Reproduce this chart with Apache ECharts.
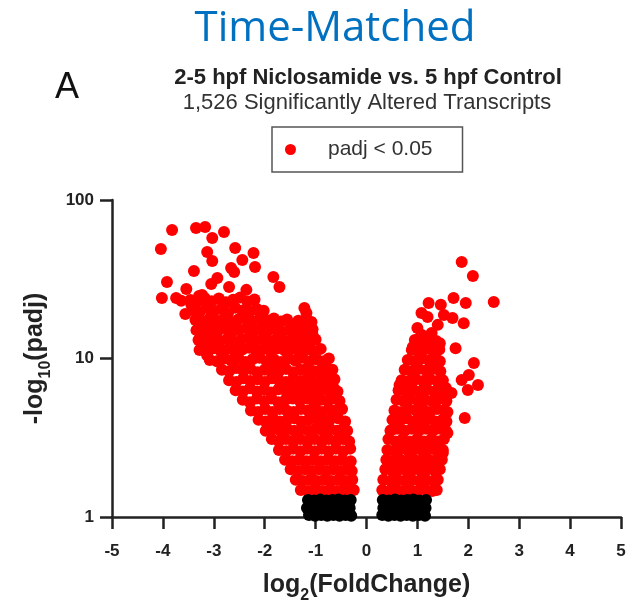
<!DOCTYPE html>
<html>
<head>
<meta charset="utf-8">
<script src="https://cdn.jsdelivr.net/npm/echarts@6/dist/echarts.min.js"></script>
<style>
html,body{margin:0;padding:0;background:#fff;}
#chart{width:634px;height:604px;}
</style>
</head>
<body>
<div id="chart"></div>
<script>
// x ticks and y ticks
const xTickValues = [-5, -4, -3, -2, -1, 0, 1, 2, 3, 4, 5];
const yTickLabels = ['1', '10', '100'];

// Significant (padj < 0.05), down-regulated, sparse upper points [log2FC, -log10(padj)]
const sigDownSparse = [
  [-3.82,64.7],[-3.35,66.6],[-3.17,67.6],[-4.04,49.1],[-3.03,57.6],[-2.80,62.8],[-3.13,47.0],
  [-3.03,41.2],[-2.58,49.8],[-2.22,46.3],[-2.44,41.8],[-2.19,37.8],[-2.66,37.2],[-3.39,35.6],
  [-2.60,35.1],[-1.83,32.7],[-1.71,28.3],[-3.92,30.4],[-2.93,32.2],[-3.05,29.5],[-3.54,27.4],
  [-4.02,24.1],[-3.74,24.1],[-3.64,23.1],[-3.29,24.8],[-3.44,21.8],[-3.56,19.1],[-3.23,25.2],
  [-2.70,28.3],[-2.36,27.1],[-2.11,19.7],[-1.22,20.8],[-1.18,19.4],[-1.85,17.0],[-1.42,16.3],
  [-1.12,15.8],[-1.06,14.1],[-1.28,14.1],[-1.32,12.7],[-1.12,12.2],[-1.61,11.6],[-3.13,10.5],
  [-0.79,8.84],[-1.38,9.8]
];

// Significant, down-regulated, dense body
const sigDownDense = [
  [-3.46,23.4],[-3.32,22.8],[-3.18,24.1],[-3.04,23.0],[-2.90,23.9],[-2.76,22.6],[-2.62,23.5],[-2.48,24.3],[-2.34,22.9],[-2.20,23.6],
  [-3.42,20.2],[-3.28,19.6],[-3.14,20.8],[-3.00,19.9],[-2.86,20.5],[-2.72,19.4],[-2.58,20.9],[-2.44,20.1],[-2.30,19.7],[-2.16,20.6],[-2.02,20.0],
  [-3.36,17.5],[-3.22,17.1],[-3.08,17.9],[-2.94,17.3],[-2.80,17.8],[-2.66,17.0],[-2.52,17.6],[-2.38,18.0],[-2.24,17.2],[-2.10,17.7],[-1.96,17.4],[-1.82,17.9],[-1.68,17.1],[-1.56,17.6],[-1.34,17.3],[-1.18,17.8],[-1.08,17.0],
  [-3.34,15.1],[-3.20,14.8],[-3.06,15.4],[-2.92,14.9],[-2.78,15.5],[-2.64,14.7],[-2.50,15.2],[-2.36,15.6],[-2.22,14.8],[-2.08,15.3],[-1.94,14.9],[-1.80,15.4],[-1.66,14.7],[-1.52,15.2],[-1.42,15.0],[-1.30,15.5],[-1.16,14.8],[-1.06,15.3],
  [-3.30,13.1],[-3.16,12.8],[-3.02,13.4],[-2.88,12.9],[-2.74,13.3],[-2.60,12.7],[-2.46,13.2],[-2.32,13.5],[-2.18,12.9],[-2.04,13.3],[-1.90,12.8],[-1.76,13.4],[-1.62,12.9],[-1.48,13.2],[-1.34,12.8],[-1.22,13.4],[-1.10,12.9],[-1.00,13.2],
  [-3.28,11.3],[-3.14,11.0],[-3.00,11.6],[-2.86,11.1],[-2.72,11.5],[-2.58,11.0],[-2.44,11.4],[-2.30,11.7],[-2.16,11.1],[-2.02,11.5],[-1.88,11.0],[-1.74,11.6],[-1.60,11.2],[-1.46,11.5],[-1.32,11.0],[-1.18,11.4],[-1.04,11.1],[-0.90,11.5],
  [-3.08,9.8],[-2.94,9.6],[-2.80,10.0],[-2.66,9.7],[-2.52,10.1],[-2.38,9.5],[-2.24,9.9],[-2.10,10.1],[-1.96,9.6],[-1.82,9.9],[-1.68,9.5],[-1.54,10.0],[-1.40,9.7],[-1.26,10.1],[-1.12,9.6],[-0.98,9.9],[-0.84,9.6],[-0.74,10.0],
  [-2.84,8.5],[-2.70,8.3],[-2.56,8.7],[-2.42,8.4],[-2.28,8.6],[-2.14,8.2],[-2.00,8.5],[-1.86,8.7],[-1.72,8.3],[-1.58,8.6],[-1.44,8.2],[-1.30,8.5],[-1.16,8.7],[-1.02,8.3],[-0.88,8.6],[-0.76,8.3],[-0.67,8.5],
  [-2.70,7.3],[-2.56,7.1],[-2.42,7.5],[-2.28,7.2],[-2.14,7.4],[-2.00,7.1],[-1.86,7.5],[-1.72,7.3],[-1.58,7.1],[-1.44,7.4],[-1.30,7.2],[-1.16,7.5],[-1.02,7.1],[-0.88,7.4],[-0.75,7.2],[-0.63,7.4],
  [-2.57,6.3],[-2.43,6.2],[-2.29,6.5],[-2.15,6.2],[-2.01,6.4],[-1.87,6.1],[-1.73,6.4],[-1.59,6.3],[-1.45,6.5],[-1.31,6.2],[-1.17,6.4],[-1.03,6.1],[-0.89,6.4],[-0.76,6.3],[-0.64,6.5],[-0.57,6.2],
  [-2.43,5.5],[-2.29,5.3],[-2.15,5.6],[-2.01,5.4],[-1.87,5.6],[-1.73,5.3],[-1.59,5.5],[-1.45,5.6],[-1.31,5.4],[-1.17,5.6],[-1.03,5.3],[-0.89,5.5],[-0.76,5.4],[-0.64,5.6],[-0.53,5.4],
  [-2.27,4.7],[-2.13,4.6],[-1.99,4.8],[-1.85,4.6],[-1.71,4.8],[-1.57,4.7],[-1.43,4.6],[-1.29,4.8],[-1.15,4.7],[-1.01,4.9],[-0.87,4.6],[-0.74,4.8],[-0.60,4.7],[-0.48,4.8],
  [-2.12,4.1],[-1.98,4.0],[-1.84,4.2],[-1.70,4.0],[-1.56,4.1],[-1.42,4.2],[-1.28,4.0],[-1.14,4.1],[-1.00,4.2],[-0.86,4.0],[-0.72,4.1],[-0.56,4.2],[-0.42,4.0],
  [-1.98,3.5],[-1.84,3.6],[-1.70,3.5],[-1.56,3.6],[-1.42,3.5],[-1.28,3.6],[-1.14,3.5],[-1.00,3.6],[-0.86,3.5],[-0.72,3.6],[-0.58,3.5],[-0.46,3.6],[-0.38,3.5],
  [-1.86,3.1],[-1.72,3.0],[-1.58,3.1],[-1.44,3.0],[-1.30,3.1],[-1.16,3.0],[-1.02,3.1],[-0.88,3.0],[-0.74,3.1],[-0.60,3.0],[-0.46,3.1],[-0.34,3.0],
  [-1.72,2.65],[-1.58,2.6],[-1.44,2.7],[-1.30,2.6],[-1.16,2.7],[-1.02,2.6],[-0.88,2.7],[-0.74,2.6],[-0.60,2.7],[-0.46,2.6],[-0.32,2.7],
  [-1.60,2.3],[-1.46,2.25],[-1.32,2.3],[-1.18,2.25],[-1.04,2.3],[-0.90,2.25],[-0.76,2.3],[-0.62,2.25],[-0.48,2.3],[-0.31,2.25],
  [-1.49,2.0],[-1.35,1.95],[-1.21,2.0],[-1.07,1.95],[-0.93,2.0],[-0.79,1.95],[-0.65,2.0],[-0.51,1.95],[-0.38,2.0],[-0.29,1.95],
  [-1.39,1.72],[-1.25,1.69],[-1.11,1.72],[-0.97,1.69],[-0.83,1.72],[-0.69,1.69],[-0.55,1.72],[-0.41,1.69],[-0.28,1.72],
  [-1.29,1.48],[-1.15,1.46],[-1.01,1.49],[-0.87,1.46],[-0.73,1.48],[-0.59,1.46],[-0.45,1.49],[-0.33,1.46],[-0.25,1.48]
];

// Significant, up-regulated, sparse upper points
const sigUpSparse = [
  [1.87,40.6],[2.09,33.2],[2.50,22.7],[1.71,24.1],[1.95,22.4],[1.22,22.4],[1.46,21.8],[1.08,19.4],
  [1.20,18.3],[1.52,18.8],[1.69,18.0],[1.91,16.7],[1.40,16.3],[1.08,14.1],[1.28,14.5],[1.44,12.5],
  [1.75,11.6],[2.11,9.37],[2.01,7.87],[1.87,7.32],[2.19,6.80],[1.99,6.33],[1.67,6.06],[1.56,6.51],
  [1.93,4.21],[0.65,6.80],[1.59,3.39],[1.50,2.53],[0.49,3.54],[1.00,15.6],[1.18,13.1],[0.91,11.8],[1.34,11.6]
];

// Significant, up-regulated, dense body
const sigUpDense = [
  [0.95,13.1],[1.09,12.8],[1.23,13.3],[1.37,12.9],
  [0.89,11.3],[1.03,11.0],[1.17,11.5],[1.31,11.1],[1.43,11.4],
  [0.81,9.8],[0.95,9.6],[1.09,10.0],[1.23,9.7],[1.37,9.9],[1.44,9.6],
  [0.75,8.5],[0.89,8.3],[1.03,8.6],[1.17,8.4],[1.31,8.6],[1.45,8.3],
  [0.69,7.3],[0.83,7.2],[0.97,7.4],[1.11,7.2],[1.25,7.4],[1.39,7.2],[1.50,7.3],
  [0.63,6.3],[0.77,6.2],[0.91,6.4],[1.05,6.2],[1.19,6.4],[1.33,6.2],[1.47,6.4],[1.54,6.3],
  [0.59,5.5],[0.73,5.4],[0.87,5.6],[1.01,5.4],[1.15,5.5],[1.29,5.4],[1.43,5.6],[1.57,5.4],
  [0.55,4.7],[0.69,4.6],[0.83,4.8],[0.97,4.7],[1.11,4.8],[1.25,4.6],[1.39,4.8],[1.53,4.7],[1.59,4.6],
  [0.51,4.1],[0.65,4.0],[0.79,4.2],[0.93,4.0],[1.07,4.1],[1.21,4.2],[1.35,4.0],[1.49,4.1],[1.57,4.0],
  [0.47,3.5],[0.61,3.6],[0.75,3.5],[0.89,3.6],[1.03,3.5],[1.17,3.6],[1.31,3.5],[1.45,3.6],[1.56,3.5],
  [0.43,3.1],[0.57,3.0],[0.71,3.1],[0.85,3.0],[0.99,3.1],[1.13,3.0],[1.27,3.1],[1.41,3.0],[1.52,3.1],
  [0.41,2.65],[0.55,2.6],[0.69,2.7],[0.83,2.6],[0.97,2.7],[1.11,2.6],[1.25,2.7],[1.39,2.6],[1.50,2.65],
  [0.39,2.3],[0.53,2.25],[0.67,2.3],[0.81,2.25],[0.95,2.3],[1.09,2.25],[1.23,2.3],[1.37,2.25],[1.48,2.3],
  [0.37,2.0],[0.51,1.95],[0.65,2.0],[0.79,1.95],[0.93,2.0],[1.07,1.95],[1.21,2.0],[1.35,1.95],[1.44,2.0],
  [0.33,1.72],[0.47,1.69],[0.61,1.72],[0.75,1.69],[0.89,1.72],[1.03,1.69],[1.17,1.72],[1.31,1.69],[1.40,1.72],
  [0.31,1.48],[0.45,1.46],[0.59,1.49],[0.73,1.46],[0.87,1.48],[1.01,1.46],[1.15,1.49],[1.29,1.46],[1.38,1.48]
];

// Not significant (black) near the bottom
const nsDown = [
  [-1.15,1.28],[-1.03,1.27],[-0.91,1.29],[-0.79,1.27],[-0.67,1.28],[-0.55,1.29],[-0.43,1.27],[-0.31,1.28],
  [-1.17,1.14],[-1.05,1.15],[-0.93,1.13],[-0.81,1.15],[-0.69,1.14],[-0.57,1.13],[-0.45,1.15],[-0.33,1.14],
  [-1.13,1.03],[-1.01,1.02],[-0.89,1.03],[-0.77,1.02],[-0.65,1.03],[-0.53,1.02],[-0.41,1.03],[-0.30,1.02]
];
const nsUp = [
  [0.32,1.28],[0.44,1.27],[0.56,1.29],[0.68,1.27],[0.80,1.28],[0.92,1.29],[1.04,1.27],[1.17,1.28],
  [0.33,1.14],[0.45,1.15],[0.57,1.13],[0.69,1.15],[0.81,1.14],[0.93,1.13],[1.05,1.15],[1.16,1.14],
  [0.31,1.03],[0.43,1.02],[0.55,1.03],[0.67,1.02],[0.79,1.03],[0.91,1.02],[1.03,1.03],[1.15,1.02]
];

const chart = echarts.init(document.getElementById('chart'));
const FONT = '"Liberation Sans", Arial, Helvetica, sans-serif';
const AX = '#222';

chart.setOption({
  animation: false,
  backgroundColor: '#fff',
  graphic: [
    { type: 'text', x: 335, y: 29, style: { text: 'Time-Matched', fill: '#0070C0', fontSize: 42, fontFamily: '"Open Sans", sans-serif', align: 'center', verticalAlign: 'middle' } },
    { type: 'text', x: 67, y: 88, style: { text: 'A', fill: '#111', fontSize: 36, fontFamily: FONT, align: 'center', verticalAlign: 'middle' } },
    { type: 'text', x: 368, y: 78, style: { text: '2-5 hpf Niclosamide vs. 5 hpf Control', fill: '#222', fontSize: 22, fontWeight: 'bold', fontFamily: FONT, align: 'center', verticalAlign: 'middle' } },
    { type: 'text', x: 367, y: 103, style: { text: '1,526 Significantly Altered Transcripts', fill: '#333', fontSize: 22, fontFamily: FONT, align: 'center', verticalAlign: 'middle' } }
  ],
  legend: {
    data: ['padj < 0.05'],
    left: 272, top: 127,
    padding: [12, 30, 12, 13],
    borderColor: '#555', borderWidth: 1.5,
    itemWidth: 11, itemHeight: 11, icon: 'circle',
    textStyle: { fontSize: 21, fontFamily: FONT, color: '#333', padding: [0, 0, 0, 27] }
  },
  grid: { left: 112, right: 13, top: 200, bottom: 87, outerBoundsMode: 'none', containLabel: false },
  xAxis: {
    type: 'value', min: -5, max: 5, interval: 1,
    name: '{a|log}{s|2}{a|(FoldChange)}', nameLocation: 'middle', nameGap: 56,
    nameTextStyle: { rich: {
      a: { fontSize: 25, fontWeight: 'bold', fontFamily: FONT, color: AX },
      s: { fontSize: 16, fontWeight: 'bold', fontFamily: FONT, color: AX, verticalAlign: 'bottom', padding: [0, 0, -6, 0] }
    } },
    axisLine: { onZero: false, lineStyle: { color: AX, width: 2.5 } },
    axisTick: { length: 12, lineStyle: { color: AX, width: 2.5 } },
    axisLabel: { fontSize: 17, fontWeight: 'bold', fontFamily: FONT, color: AX, margin: 26,
      formatter: v => xTickValues.includes(v) ? String(v) : '' },
    splitLine: { show: false }
  },
  yAxis: {
    type: 'log', logBase: 10, min: 1, max: 100,
    name: '{a|-log}{s|10}{a|(padj)}', nameLocation: 'middle', nameGap: 64,
    nameTextStyle: { rich: {
      a: { fontSize: 25, fontWeight: 'bold', fontFamily: FONT, color: AX },
      s: { fontSize: 16, fontWeight: 'bold', fontFamily: FONT, color: AX, verticalAlign: 'bottom', padding: [0, 0, -6, 0] }
    } },
    axisLine: { onZero: false, lineStyle: { color: AX, width: 2.5 } },
    axisTick: { length: 12, lineStyle: { color: AX, width: 2.5 } },
    minorTick: { show: false },
    axisLabel: { fontSize: 17, fontWeight: 'bold', fontFamily: FONT, color: AX, margin: 18,
      formatter: v => { const s = String(Math.round(v)); return yTickLabels.includes(s) ? s : ''; } },
    splitLine: { show: false }
  },
  series: [
    { name: 'padj < 0.05', type: 'scatter', symbolSize: 12, itemStyle: { color: '#ff0000', opacity: 1 },
      data: sigDownSparse.concat(sigDownDense, sigUpSparse, sigUpDense) },
    { name: 'padj ≥ 0.05', type: 'scatter', symbolSize: 12, itemStyle: { color: '#000000', opacity: 1 },
      data: nsDown.concat(nsUp) }
  ]
});
</script>
</body>
</html>
